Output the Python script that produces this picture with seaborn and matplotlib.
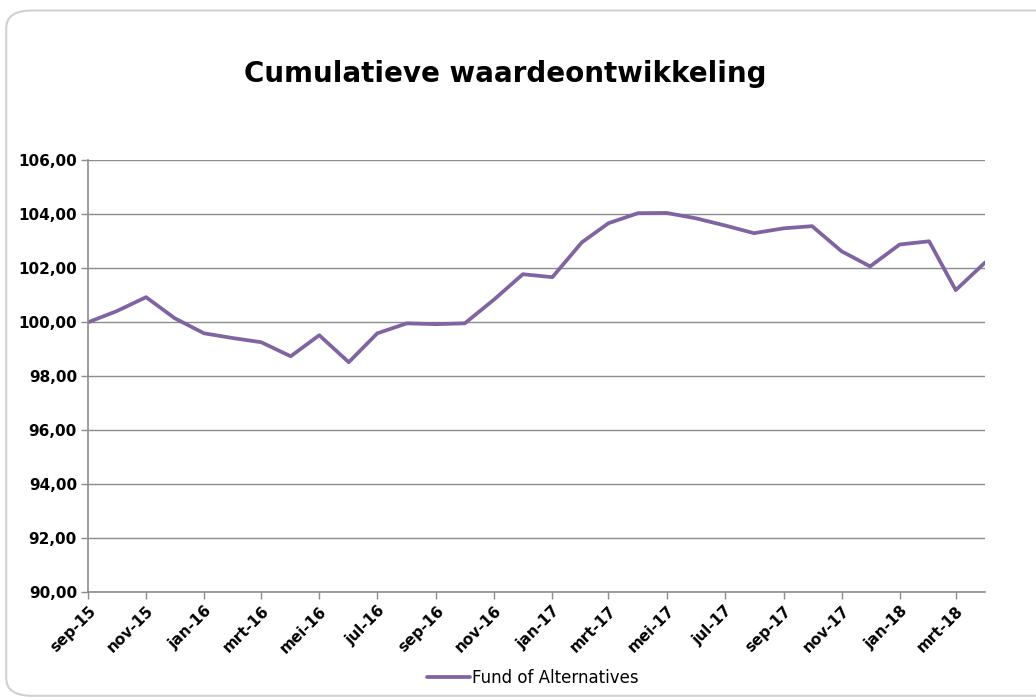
import matplotlib.pyplot as plt
import pandas as pd
import seaborn as sns
from matplotlib.patches import FancyBboxPatch

# Monthly cumulative value, sep-15 .. apr-18
dates = pd.date_range('2015-09-01', periods=32, freq='MS')
values = [100.00, 100.41, 100.93, 100.15, 99.59, 99.41, 99.26, 98.74,
          99.52, 98.52, 99.59, 99.96, 99.93, 99.96, 100.85, 101.78,
          101.67, 102.96, 103.67, 104.04, 104.05, 103.85, 103.59, 103.30,
          103.48, 103.56, 102.63, 102.07, 102.88, 103.00, 101.19, 102.22]
month_names = ['jan', 'feb', 'mrt', 'apr', 'mei', 'jun',
               'jul', 'aug', 'sep', 'okt', 'nov', 'dec']
series_name = 'Fund of Alternatives'
y_ticks = [90, 92, 94, 96, 98, 100, 102, 104, 106]

df = pd.DataFrame({'date': dates, 'value': values, 'series': series_name})

sns.set_style('white')
plt.rcParams['font.family'] = ['DejaVu Sans']
plt.rcParams['text.color'] = 'black'
plt.rcParams['xtick.color'] = 'black'
plt.rcParams['ytick.color'] = 'black'

fig = plt.figure(figsize=(10.36, 7), dpi=100)
ax = fig.add_axes([0.085, 0.154, 0.866, 0.617])

# rounded chart frame
frame = FancyBboxPatch((0.006, 0.006), 1.1, 0.979, transform=fig.transFigure,
                       boxstyle='round,pad=0,rounding_size=0.025',
                       facecolor='none', edgecolor='#d0d0d0', linewidth=1.5,
                       zorder=-1)
fig.patches.append(frame)

sns.lineplot(data=df, x='date', y='value', hue='series', palette=['#8064a2'],
             linewidth=2.7, ax=ax)

ax.set_xlim(dates[0], dates[-1])
ax.set_ylim(90, 106)
ax.set_yticks(y_ticks)
ax.set_yticklabels([f'{v:.2f}'.replace('.', ',') for v in y_ticks],
                   fontweight='bold', fontsize=11)
tick_dates = dates[::2]
ax.set_xticks(tick_dates)
ax.set_xticklabels([f'{month_names[d.month - 1]}-{d.strftime("%y")}' for d in tick_dates],
                   rotation=45, ha='right', rotation_mode='anchor',
                   fontweight='bold', fontsize=11)
ax.grid(axis='y', color='#8c8c8c', linewidth=1)
ax.set_axisbelow(True)
for side in ['top', 'right']:
    ax.spines[side].set_visible(False)
for side in ['left', 'bottom']:
    ax.spines[side].set_color('#8c8c8c')
    ax.spines[side].set_linewidth(1.2)
ax.tick_params(axis='both', which='both', direction='out', length=5,
               color='#8c8c8c', width=1, pad=3, left=True, bottom=True)
ax.set_xlabel('')
ax.set_ylabel('')

fig.text(0.488, 0.895, 'Cumulatieve waardeontwikkeling', ha='center',
         va='center', fontsize=20, fontweight='bold')

ax.legend(loc='center', bbox_to_anchor=(0.514, 0.032),
          bbox_transform=fig.transFigure, frameon=False, fontsize=12,
          handlelength=2.6, handletextpad=0.1)

fig.savefig('out.png', dpi=100)
